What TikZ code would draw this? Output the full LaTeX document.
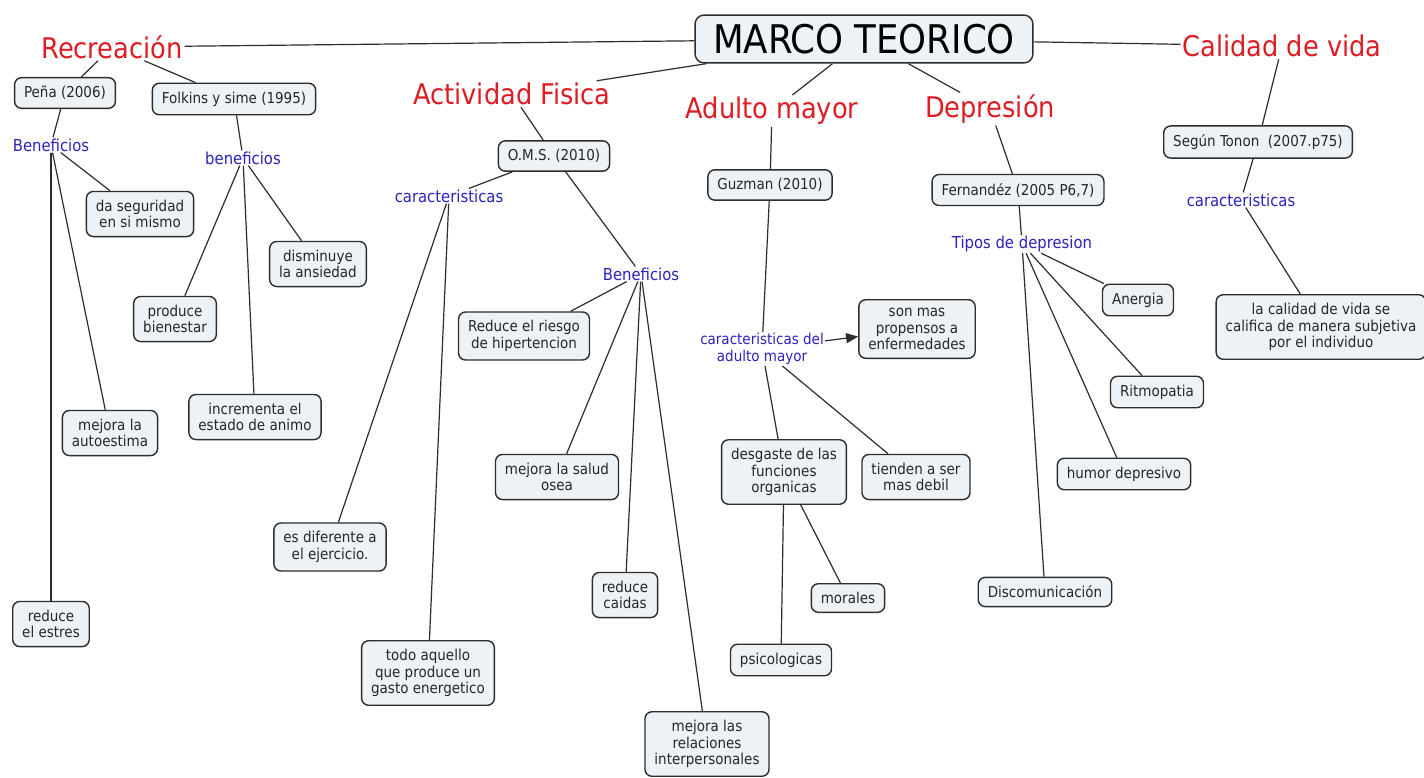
\documentclass[tikz,border=0pt]{standalone}
\usepackage{fontspec}
\setmainfont{DejaVu Sans Condensed}
\usepackage{tikz}
\usetikzlibrary{arrows.meta}

\definecolor{topicred}{RGB}{222,28,36}
\definecolor{linkblue}{RGB}{42,36,186}
\definecolor{boxfill}{RGB}{236,242,245}
\definecolor{linec}{RGB}{45,45,45}

\begin{document}
\begin{tikzpicture}[
        x=1pt, y=-1pt,
        box/.style={rectangle, rounded corners=7pt, draw=linec, line width=1.4pt, fill=boxfill, align=center, text=black!85, font=\fontsize{15}{16.5}\selectfont, inner xsep=9.5pt, inner ysep=8.5pt},
        topic/.style={text=topicred, font=\fontsize{28.5}{32}\selectfont, inner sep=2pt},
        link/.style={text=linkblue, font=\fontsize{16.5}{18}\selectfont, align=center, inner sep=1pt},
        line/.style={draw=linec, line width=1.2pt},
        arrow/.style={line, -{Triangle[length=12pt, width=10pt]}}
    ]
        \path[use as bounding box, fill=white] (0,0) rectangle (1424,777);

        \node[box, font=\fontsize{39.5}{42}\selectfont, text=black, inner xsep=18pt, inner ysep=9pt, rounded corners=9pt] (marco) at (864,39) {MARCO TEORICO};

        % topics
        \node[topic] (recre) at (112,47) {Recreación};
        \node[topic] (actfis) at (512,94) {Actividad Fisica};
        \node[topic] (adulto) at (772,111) {Adulto mayor};
        \node[topic] (depre) at (990,109) {Depresión};
        \node[topic] (calidad) at (1282,46) {Calidad de vida};

        % Recreacion
        \node[box] (pena) at (65,93) {Peña (2006)};
        \node[box] (folkins) at (234,99) {Folkins y sime (1995)};
        \node[link] (benpena) at (51,145) {Beneficios};
        \node[link] (benfolk) at (243,158) {beneficios};
        \node[box] (seguridad) at (140,214) {da seguridad\\en si mismo};
        \node[box] (ansiedad) at (318,264) {disminuye\\la ansiedad};
        \node[box] (bienestar) at (175,319) {produce\\bienestar};
        \node[box] (animo) at (255,417) {incrementa el\\estado de animo};
        \node[box] (autoestima) at (110,433) {mejora la\\autoestima};
        \node[box] (estres) at (51,624) {reduce\\el estres};

        % Actividad Fisica
        \node[box] (oms) at (554,156) {O.M.S. (2010)};
        \node[link] (caract) at (449,196) {caracteristicas};
        \node[link] (benoms) at (641,274) {Beneficios};
        \node[box] (hipert) at (524,336) {Reduce el riesgo\\de hipertencion};
        \node[box] (osea) at (557,477) {mejora la salud\\osea};
        \node[box] (diferente) at (330,547) {es diferente a\\el ejercicio.};
        \node[box] (caidas) at (625,595) {reduce\\caidas};
        \node[box] (gasto) at (428,673) {todo aquello\\que produce un\\gasto energetico};
        \node[box] (relaciones) at (707,744) {mejora las\\relaciones\\interpersonales};

        % Adulto mayor
        \node[box] (guzman) at (770,185) {Guzman (2010)};
        \node[link, font=\fontsize{15}{17}\selectfont] (caradulto) at (762,349) {caracteristicas del\\adulto mayor};
        \node[box] (propensos) at (917,329) {son mas\\propensos a\\enfermedades};
        \node[box] (desgaste) at (784,472) {desgaste de las\\funciones\\organicas};
        \node[box] (debil) at (916,477) {tienden a ser\\mas debil};
        \node[box] (morales) at (848,598) {morales};
        \node[box] (psicol) at (781,660) {psicologicas};

        % Depresion
        \node[box] (fernandez) at (1018,190) {Fernandéz (2005 P6,7)};
        \node[link] (tipos) at (1022,244) {Tipos de depresion};
        \node[box] (anergia) at (1138,300) {Anergia};
        \node[box] (ritmo) at (1157,392) {Ritmopatia};
        \node[box] (humor) at (1124,474) {humor depresivo};
        \node[box] (discom) at (1045,592) {Discomunicación};

        % Calidad de vida
        \node[box] (tonon) at (1258,142) {Según Tonon~ (2007.p75)};
        \node[link] (caracvida) at (1241,200) {caracteristicas};
        \node[box] (subjetiva) at (1321,327) {la calidad de vida se\\califica de manera subjetiva\\por el individuo};

        \draw[line] (marco) -- (recre);
        \draw[line] (marco) -- (actfis);
        \draw[line] (marco) -- (adulto);
        \draw[line] (marco) -- (depre);
        \draw[line] (marco) -- (calidad);

        \draw[line] (recre) -- (pena);
        \draw[line] (recre) -- (folkins);
        \draw[line] (pena) -- (benpena);
        \draw[line] (benpena) -- (seguridad);
        \draw[line] (benpena) -- (autoestima);
        \draw[line] (benpena) -- (estres);
        \draw[line] (folkins) -- (benfolk);
        \draw[line] (benfolk) -- (bienestar);
        \draw[line] (benfolk) -- (animo);
        \draw[line] (benfolk) -- (ansiedad);

        \draw[line] (actfis) -- (oms);
        \draw[line] (oms) -- (caract);
        \draw[line] (oms) -- (benoms);
        \draw[line] (caract) -- (diferente);
        \draw[line] (caract) -- (gasto);
        \draw[line] (benoms) -- (hipert);
        \draw[line] (benoms) -- (osea);
        \draw[line] (benoms) -- (caidas);
        \draw[line] (benoms) -- (relaciones);

        \draw[line] (adulto) -- (guzman);
        \draw[line] (guzman) -- (caradulto);
        \draw[arrow] (caradulto) -- (propensos);
        \draw[line] (caradulto) -- (desgaste);
        \draw[line] (caradulto) -- (debil);
        \draw[line] (desgaste) -- (morales);
        \draw[line] (desgaste) -- (psicol);

        \draw[line] (depre) -- (fernandez);
        \draw[line] (fernandez) -- (tipos);
        \draw[line] (tipos) -- (anergia);
        \draw[line] (tipos) -- (ritmo);
        \draw[line] (tipos) -- (humor);
        \draw[line] (tipos) -- (discom);

        \draw[line] (calidad) -- (tonon);
        \draw[line] (tonon) -- (caracvida);
        \draw[line] (caracvida) -- (subjetiva);
    \end{tikzpicture}
\end{document}
